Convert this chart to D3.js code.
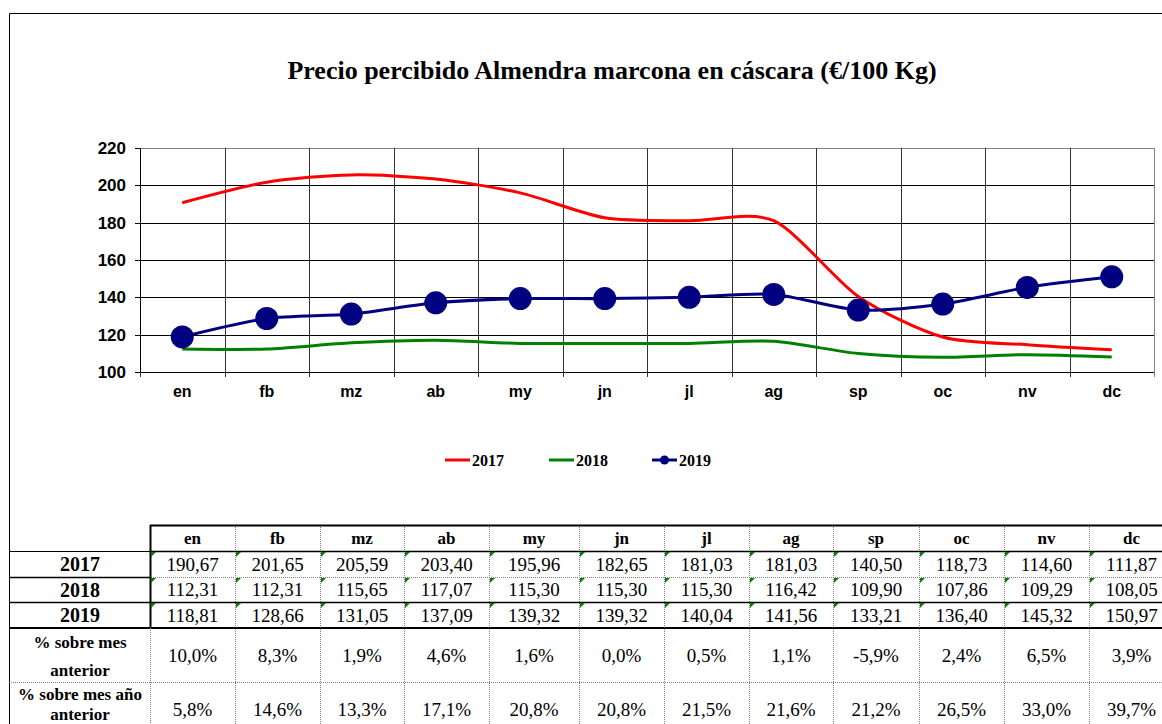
<!DOCTYPE html>
<html><head><meta charset="utf-8">
<script src="https://cdn.jsdelivr.net/npm/d3@7"></script>
<style>html,body{margin:0;padding:0;background:#fff;overflow:hidden}</style>
</head><body>
<script>
const months = ["en","fb","mz","ab","my","jn","jl","ag","sp","oc","nv","dc"];
const years = ["2017","2018","2019"];
const v2017 = [190.67,201.65,205.59,203.40,195.96,182.65,181.03,181.03,140.50,118.73,114.60,111.87];
const v2018 = [112.31,112.31,115.65,117.07,115.30,115.30,115.30,116.42,109.90,107.86,109.29,108.05];
const v2019 = [118.81,128.66,131.05,137.09,139.32,139.32,140.04,141.56,133.21,136.40,145.32,150.97];
const pctPrevMonth = ["10,0%","8,3%","1,9%","4,6%","1,6%","0,0%","0,5%","1,1%","-5,9%","2,4%","6,5%","3,9%"];
const pctPrevYear = ["5,8%","14,6%","13,3%","17,1%","20,8%","20,8%","21,5%","21,6%","21,2%","26,5%","33,0%","39,7%"];
const yTicks = [100,120,140,160,180,200,220];
const colors = {"2017":"#ff0000","2018":"#008000","2019":"#000080"};
const title = "Precio percibido Almendra marcona en cáscara (€/100 Kg)";

const W = 1162, H = 724;
const svg = d3.select("body").append("svg").attr("width", W).attr("height", H);

// outer frame
svg.append("line").attr("x1",9.5).attr("x2",9.5).attr("y1",13.5).attr("y2",H).attr("stroke","#000");
svg.append("line").attr("x1",9.5).attr("x2",W).attr("y1",13.5).attr("y2",13.5).attr("stroke","#000");

svg.append("text").attr("x",612).attr("y",79).attr("text-anchor","middle")
  .attr("font-family","Liberation Serif").attr("font-weight","bold").attr("font-size",26)
  .text(title);

// plot
const x = d3.scaleBand().domain(months).range([140,1154]).padding(0);
const y = d3.scaleLinear().domain([100,220]).range([372,148]);
const g = svg.append("g");

g.selectAll(".hg").data(yTicks).join("line")
  .attr("x1",140).attr("x2",1154)
  .attr("y1",d=>Math.round(y(d))+0.5).attr("y2",d=>Math.round(y(d))+0.5)
  .attr("stroke",d=>d===220?"#808080":"#000").attr("stroke-width",1);
const bounds = months.map(m=>x(m)).concat([x.range()[1]]);
g.selectAll(".vg").data(bounds).join("line")
  .attr("x1",d=>Math.round(d)+0.5).attr("x2",d=>Math.round(d)+0.5)
  .attr("y1",148).attr("y2",377)
  .attr("stroke",(d,i)=>i===bounds.length-1?"#808080":"#333").attr("stroke-width",1);
g.append("line").attr("x1",140.5).attr("x2",140.5).attr("y1",148).attr("y2",372).attr("stroke","#000");
g.selectAll(".yt").data(yTicks).join("line")
  .attr("x1",135).attr("x2",140).attr("y1",d=>Math.round(y(d))+0.5).attr("y2",d=>Math.round(y(d))+0.5).attr("stroke","#000");
g.selectAll(".yl").data(yTicks).join("text")
  .attr("x",126).attr("y",d=>y(d)).attr("dy","0.36em").attr("text-anchor","end")
  .attr("font-family","Liberation Sans").attr("font-weight","bold").attr("font-size",17).text(d=>d);
g.selectAll(".xl").data(months).join("text")
  .attr("x",d=>x(d)+x.bandwidth()/2).attr("y",391).attr("dy","0.36em").attr("text-anchor","middle")
  .attr("font-family","Liberation Sans").attr("font-weight","bold").attr("font-size",16).text(d=>d);

const line = d3.line().x((d,i)=>x(months[i])+x.bandwidth()/2).y(d=>y(d)).curve(d3.curveCardinal.tension(0.2));
const series = [["2017",v2017],["2018",v2018],["2019",v2019]];
series.forEach(([k,vals])=>{
  g.append("path").datum(vals).attr("d",line).attr("fill","none").attr("stroke",colors[k]).attr("stroke-width",3);
});
g.selectAll(".dot").data(v2019).join("circle")
  .attr("cx",(d,i)=>x(months[i])+x.bandwidth()/2).attr("cy",d=>y(d)).attr("r",11.5).attr("fill",colors["2019"]);

// legend
const legX = [445,549,652];
series.forEach(([k],i)=>{
  const lg = svg.append("g");
  lg.append("line").attr("x1",legX[i]).attr("x2",legX[i]+25).attr("y1",460).attr("y2",460).attr("stroke",colors[k]).attr("stroke-width",3);
  if(k==="2019") lg.append("circle").attr("cx",legX[i]+12.5).attr("cy",460).attr("r",4.5).attr("fill",colors[k]);
  lg.append("text").attr("x",legX[i]+27).attr("y",460).attr("dy","0.35em")
    .attr("font-family","Liberation Serif").attr("font-weight","bold").attr("font-size",16).text(k);
});

// table
const colB = [150,235,320,404,489,579,664,749,833,919,1004,1089,1174];
const rowB = [525,551,577,602,628,682,736];
const t = svg.append("g");
const serif = "Liberation Serif";
colB.slice(1).forEach(cx=>{
  t.append("line").attr("x1",cx+0.5).attr("x2",cx+0.5).attr("y1",525).attr("y2",H)
    .attr("stroke","#808080").attr("stroke-dasharray","1,1");
});
[551,577,682].forEach(ry=>{
  t.append("line").attr("x1",9).attr("x2",W).attr("y1",ry+0.5).attr("y2",ry+0.5)
    .attr("stroke","#808080").attr("stroke-dasharray","1,1");
});
t.append("line").attr("x1",150).attr("x2",W).attr("y1",525.5).attr("y2",525.5).attr("stroke","#000").attr("stroke-width",2);
t.append("line").attr("x1",150).attr("x2",W).attr("y1",551.5).attr("y2",551.5).attr("stroke","#000").attr("stroke-width",1.5);
t.append("line").attr("x1",9).attr("x2",150).attr("y1",551.5).attr("y2",551.5).attr("stroke","#000").attr("stroke-width",1);
t.append("line").attr("x1",9).attr("x2",150).attr("y1",577.5).attr("y2",577.5).attr("stroke","#000").attr("stroke-width",1.5);
t.append("line").attr("x1",9).attr("x2",W).attr("y1",602.5).attr("y2",602.5).attr("stroke","#000").attr("stroke-width",1.5);
t.append("line").attr("x1",9).attr("x2",W).attr("y1",628).attr("y2",628).attr("stroke","#000").attr("stroke-width",2);
t.append("line").attr("x1",150.5).attr("x2",150.5).attr("y1",525).attr("y2",628).attr("stroke","#000").attr("stroke-width",2);
t.append("line").attr("x1",150.5).attr("x2",150.5).attr("y1",628).attr("y2",H).attr("stroke","#808080").attr("stroke-dasharray","1,1");

const colC = months.map((m,i)=>(colB[i]+colB[i+1])/2);
t.selectAll(".hd").data(months).join("text").attr("x",(d,i)=>colC[i]).attr("y",538).attr("dy","0.35em")
  .attr("text-anchor","middle").attr("font-family",serif).attr("font-weight","bold").attr("font-size",17).text(d=>d);

const fmt = v=>v.toFixed(2).replace(".",",");
series.forEach(([k,vals],r)=>{
  const cy = (rowB[r+1]+rowB[r+2])/2;
  t.append("text").attr("x",80).attr("y",cy).attr("dy","0.35em").attr("text-anchor","middle")
    .attr("font-family",serif).attr("font-weight","bold").attr("font-size",20).text(k);
  t.selectAll(".v"+k).data(vals).join("text").attr("x",(d,i)=>colC[i]).attr("y",cy).attr("dy","0.35em")
    .attr("text-anchor","middle").attr("font-family",serif).attr("font-size",19).text(d=>fmt(d));
  t.selectAll(".tri"+k).data(vals).join("path")
    .attr("d",(d,i)=>`M${colB[i]+1},${rowB[r+1]+1}h5l-5,5z`).attr("fill","#008000");
});
[[pctPrevMonth,628,682,["% sobre mes","anterior"],14,42],[pctPrevYear,682,736,["% sobre mes año","anterior"],12,32]].forEach(([vals,y0,y1,lbl,o1,o2])=>{
  const cy = (y0+y1)/2;
  t.append("text").attr("x",80).attr("y",y0+o1).attr("dy","0.35em").attr("text-anchor","middle")
    .attr("font-family",serif).attr("font-weight","bold").attr("font-size",17).text(lbl[0]);
  t.append("text").attr("x",80).attr("y",y0+o2).attr("dy","0.35em").attr("text-anchor","middle")
    .attr("font-family",serif).attr("font-weight","bold").attr("font-size",17).text(lbl[1]);
  t.selectAll(null).data(vals).join("text").attr("x",(d,i)=>colC[i]).attr("y",cy).attr("dy","0.35em")
    .attr("text-anchor","middle").attr("font-family",serif).attr("font-size",19).text(d=>d);
});
</script>
</body></html>
